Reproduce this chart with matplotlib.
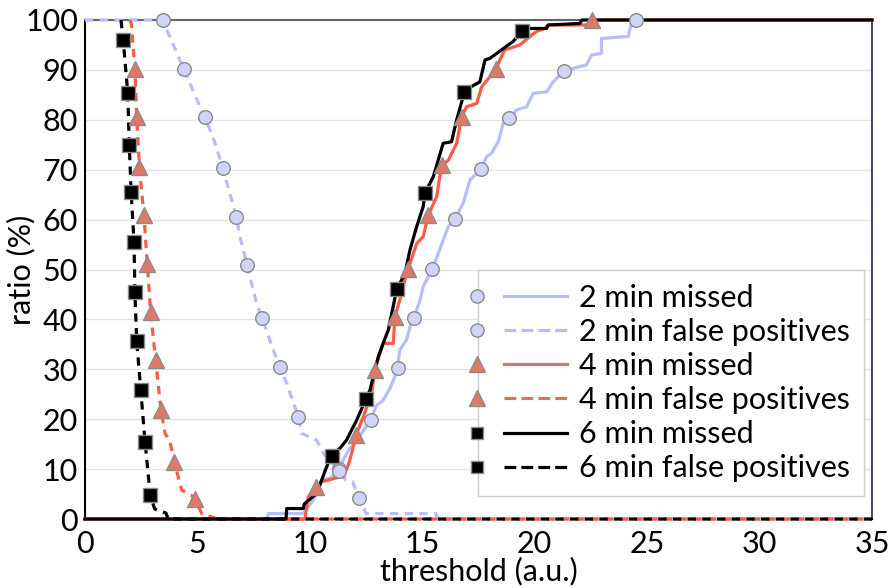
import numpy as np
import matplotlib
matplotlib.use("Agg")
import matplotlib.pyplot as plt
from matplotlib.lines import Line2D
from matplotlib.legend_handler import HandlerBase

plt.rcParams['font.family'] = ['Lato', 'DejaVu Sans']

# 2 min
miss2_x = [0, 8.1, 8.15, 9.71, 10.15, 10.37, 10.52, 10.9, 11.26, 11.56, 11.78, 12.08, 12.3,
           12.7, 12.97, 13.26, 13.56, 13.78, 13.9, 14.0, 14.3, 14.45, 14.63, 14.9, 15.04,
           15.44, 15.71, 15.93, 16.16, 16.45, 16.82, 17.12, 17.61, 17.86, 18.08, 18.38, 18.6,
           18.87, 19.2, 19.64, 19.93, 20.53, 20.82, 21.3, 22.3, 22.53, 22.97, 22.97, 24.16,
           24.31, 24.49, 35]
miss2_y = [0, 0, 1.1, 1.1, 3.8, 5.5, 7.8, 8.2, 9.8, 12.5, 14.2, 15.5, 17.2,
           19.8, 22.8, 23.8, 26.2, 28.5, 30.3, 33.9, 35.9, 38.5, 40.3, 43.9, 46.6,
           50.1, 53.2, 55.9, 58.6, 60.1, 63.3, 67.9, 70.1, 72.6, 73.3, 75.6, 79.3,
           80.3, 82.0, 82.6, 85.3, 85.6, 87.6, 89.8, 91.0, 93.0, 93.3, 96.3, 96.7,
           99.6, 100, 100]
miss2_mx = [11.3, 12.7, 13.9, 14.63, 15.44, 16.45, 17.61, 18.87, 21.3, 24.49]
miss2_my = [10, 19.8, 30.3, 40.3, 50.1, 60.1, 70.1, 80.3, 89.8, 100]

fp2_x = [0, 3.45, 4.39, 5.32, 5.69, 6.12, 6.73, 6.89, 7.20, 7.63, 7.88, 8.37, 8.67, 8.97,
         9.49, 9.63, 10.3, 10.6, 11.31, 11.6, 11.9, 12.17, 12.5, 15.6, 15.7, 35]
fp2_y = [100, 100, 90.2, 80.5, 76.6, 70.4, 60.6, 56.6, 51.0, 43.2, 40.3, 33.9, 30.4, 27.2,
         20.4, 17.2, 15.8, 13.2, 9.6, 7.8, 7.5, 4.3, 1.1, 1.1, 0, 0]
fp2_mx = [3.45, 4.39, 5.32, 6.12, 6.73, 7.20, 7.88, 8.67, 9.49, 11.31, 12.17]
fp2_my = [100, 90.2, 80.5, 70.4, 60.6, 51.0, 40.3, 30.4, 20.4, 9.6, 4.3]

# 4 min
miss4_x = [0, 9.78, 9.93, 10.27, 10.52, 10.82, 11.12, 11.49, 11.71, 11.86, 12.05, 12.38,
           12.75, 12.89, 13.26, 13.71, 13.78, 14.0, 14.3, 14.38, 14.75, 15.04, 15.27, 15.64,
           15.86, 16.16, 16.53, 16.75, 16.97, 17.42, 17.64, 18.27, 18.45, 18.67, 19.34,
           19.79, 20.08, 20.45, 20.6, 22.6, 22.65, 35]
miss4_y = [0, 0, 4.5, 6.5, 7.5, 7.8, 8.2, 8.5, 10.8, 13.2, 16.8, 20.5,
           25.2, 29.9, 35.2, 35.2, 40.5, 43.9, 49.2, 50.2, 55.2, 56.6, 60.9, 64.6,
           70.9, 71.9, 75.3, 80.6, 82.6, 83.3, 86.6, 90.1, 92.0, 94.0, 95.0,
           96.7, 97.7, 98.3, 99.0, 99.0, 100, 100]
miss4_mx = [10.27, 12.05, 12.89, 13.78, 14.38, 15.27, 15.86, 16.75, 18.27, 22.53]
miss4_my = [6.5, 16.8, 29.9, 40.5, 50.2, 60.9, 70.9, 80.6, 90.1, 100]

fp4_x = [2.0, 2.07, 2.22, 2.30, 2.42, 2.62, 2.77, 2.92, 3.14, 3.38, 3.56, 3.78, 3.97,
         4.3, 4.74, 4.89, 5.19, 5.9, 35]
fp4_y = [100, 99, 90.1, 80.6, 70.6, 60.9, 51.2, 41.4, 31.9, 21.8, 17.2, 15.5, 11.5,
         5.8, 4.7, 4.1, 1.1, 0, 0]
fp4_mx = [2.22, 2.30, 2.42, 2.62, 2.77, 2.92, 3.14, 3.38, 3.97, 4.89]
fp4_my = [90.1, 80.6, 70.6, 60.9, 51.2, 41.4, 31.9, 21.8, 11.5, 4.1]

# 6 min
miss6_x = [0, 8.94, 8.97, 9.71, 9.75, 10.3, 10.75, 10.97, 11.34, 11.63, 12.08, 12.49, 12.67,
           13.04, 13.26, 13.49, 13.86, 14.23, 14.45, 14.75, 15.04, 15.12, 15.49, 15.93,
           16.30, 16.53, 16.87, 17.12, 17.56, 17.79, 18.0, 18.31, 18.82, 19.04, 19.42,
           19.79, 20.53, 20.6, 22.0, 22.1, 35]
miss6_y = [0, 0, 2.1, 2.1, 3.0, 5.1, 10.5, 12.8, 14.2, 15.8, 19.8, 24.0, 25.8,
           32.5, 35.2, 37.9, 46.0, 49.2, 53.9, 58.6, 62.6, 65.3, 68.6, 75.3,
           75.6, 80.0, 85.5, 86.5, 87.6, 92.0, 92.3, 93.3, 95.0, 95.7, 97.7,
           98.3, 98.3, 99.0, 99.3, 100, 100]
miss6_mx = [10.97, 12.49, 13.86, 15.12, 16.87, 19.42]
miss6_my = [12.6, 24.0, 46.0, 65.3, 85.5, 97.7]

fp6_x = [1.6, 1.7, 1.9, 1.97, 2.05, 2.18, 2.22, 2.30, 2.48, 2.67, 2.90, 3.1, 3.6, 3.7, 35]
fp6_y = [100, 96, 85.4, 75, 65.6, 55.6, 45.4, 35.6, 25.9, 15.5, 4.8, 2.0, 1.2, 0, 0]
fp6_mx = [1.7, 1.9, 1.97, 2.05, 2.18, 2.22, 2.30, 2.48, 2.67, 2.90]
fp6_my = [96, 85.4, 75, 65.6, 55.6, 45.4, 35.6, 25.9, 15.5, 4.8]

labels = ["2 min missed", "2 min false positives", "4 min missed",
          "4 min false positives", "6 min missed", "6 min false positives"]

c2_line, c2_face = "#b7befa", "#cfd4f8"
c4_line, c4_face, c4_leg = "#ff5a45", "#e07866", "#d5746a"
c6 = "black"
edge = "#8c8c8c"
dash = (0, (2.6, 2.0))
fs = 22

fig = plt.figure(figsize=(8.89, 5.88), dpi=100)
ax = fig.add_axes([0.0956, 0.1173, 0.8853, 0.8487])

lw = 2.3
ax.plot(miss2_x, miss2_y, color=c2_line, lw=lw, clip_on=False, zorder=3)
ax.plot(fp2_x, fp2_y, color=c2_line, lw=lw, ls=dash, clip_on=False, zorder=3)
ax.plot(miss4_x, miss4_y, color=c4_line, lw=lw, clip_on=False, zorder=3)
ax.plot(fp4_x, fp4_y, color=c4_line, lw=lw, ls=dash, clip_on=False, zorder=3)
ax.plot(miss6_x, miss6_y, color=c6, lw=lw, clip_on=False, zorder=3)
ax.plot(fp6_x, fp6_y, color=c6, lw=lw, ls=dash, clip_on=False, zorder=3)

mk = dict(ls="none", mec=edge, mew=1.0, clip_on=False, zorder=4)
ax.plot(miss2_mx, miss2_my, marker="o", ms=9.8, mfc=c2_face, **mk)
ax.plot(fp2_mx, fp2_my, marker="o", ms=9.8, mfc=c2_face, **mk)
ax.plot(miss4_mx, miss4_my, marker="^", ms=12, mfc=c4_face, **mk)
ax.plot(fp4_mx, fp4_my, marker="^", ms=12, mfc=c4_face, **mk)
ax.plot(miss6_mx, miss6_my, marker="s", ms=9.5, mfc=c6, **mk)
ax.plot(fp6_mx, fp6_my, marker="s", ms=9.5, mfc=c6, **mk)

ax.set_xlim(0, 35)
ax.set_ylim(0, 100)
ax.set_xticks(np.arange(0, 36, 5))
ax.set_yticks(np.arange(0, 101, 10))
ax.tick_params(axis="x", length=0, labelsize=fs, pad=8)
ax.tick_params(axis="y", length=0, labelsize=fs, pad=5)
ax.yaxis.grid(True, color="#e3e3e3", lw=1)
ax.set_axisbelow(True)
for s in ["left", "bottom"]:
    ax.spines[s].set_color("black")
    ax.spines[s].set_linewidth(1.5)
ax.spines["top"].set_color("#666666")
ax.spines["right"].set_color("#4a4a5c")
ax.spines["top"].set_linewidth(1.5)
ax.spines["right"].set_linewidth(1.5)

ax.set_xlabel("threshold (a.u.)", fontsize=fs, labelpad=-1)
ax.set_ylabel("ratio (%)", fontsize=fs)
ax.yaxis.set_label_coords(-0.063, 0.5)


class MarkerThenLine(HandlerBase):
    def create_artists(self, legend, h, xdescent, ydescent, width, height,
                       fontsize, trans):
        y = (height - ydescent) / 2
        ln = Line2D([-xdescent + 0.4 * fontsize, -xdescent + width], [y, y],
                    color=h.get_color(), lw=h.get_linewidth(),
                    ls=h.get_linestyle(), transform=trans)
        m = Line2D([-xdescent - 0.5 * fontsize], [y], ls="none",
                   marker=h.get_marker(), ms=h.get_markersize(),
                   mfc=h.get_markerfacecolor(), mec=h.get_markeredgecolor(),
                   mew=1.0, transform=trans)
        return [ln, m]


handles = [
    Line2D([], [], color=c2_line, lw=2.3, marker="o", ms=9.5, mfc=c2_face, mec=edge),
    Line2D([], [], color=c2_line, lw=2.3, ls=dash, marker="o", ms=9.5, mfc=c2_face, mec=edge),
    Line2D([], [], color=c4_leg, lw=2.3, marker="^", ms=11, mfc=c4_face, mec=edge),
    Line2D([], [], color=c4_leg, lw=2.3, ls=dash, marker="^", ms=11, mfc=c4_face, mec=edge),
    Line2D([], [], color=c6, lw=2.3, marker="s", ms=9, mfc=c6, mec=edge),
    Line2D([], [], color=c6, lw=2.3, ls=dash, marker="s", ms=9, mfc=c6, mec=edge),
]
leg = ax.legend(handles, labels, loc="upper left", bbox_to_anchor=(0.4994, 0.499),
                borderaxespad=0, fontsize=fs, handlelength=2.45, handletextpad=0.4,
                labelspacing=0.2, borderpad=0.45, fancybox=False, framealpha=1,
                edgecolor="#cccccc", handler_map={Line2D: MarkerThenLine()})
leg.get_frame().set_linewidth(1.0)

fig.savefig("out.png", dpi=100)
